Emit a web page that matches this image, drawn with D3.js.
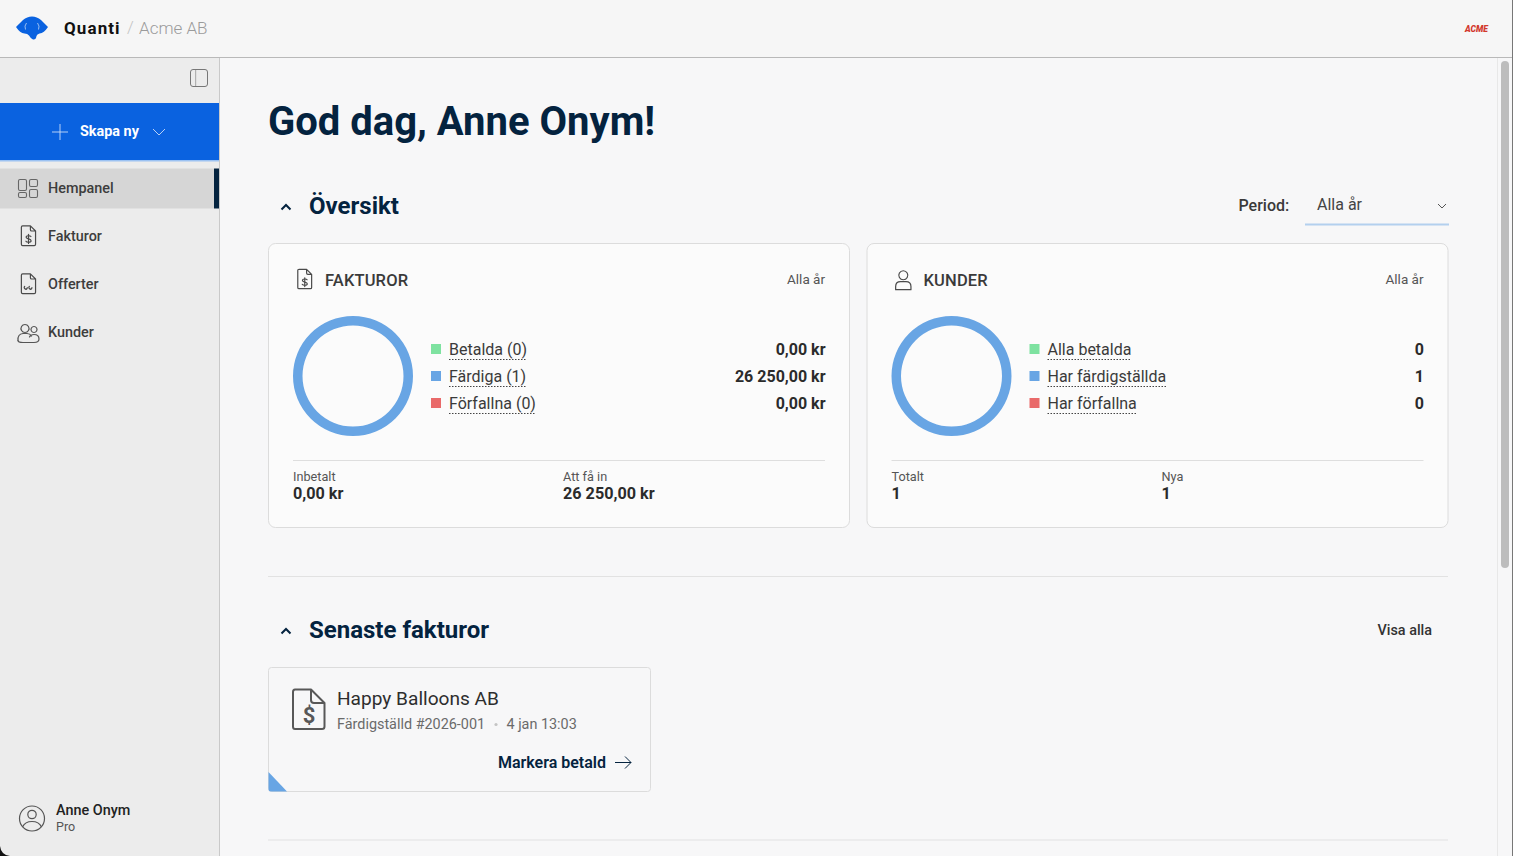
<!DOCTYPE html>
<html>
<head>
<meta charset="utf-8">
<script src="https://cdn.jsdelivr.net/npm/d3@7"></script>
<style>
  html, body { margin: 0; padding: 0; background: #f7f7f8; overflow: hidden; }
  svg { display: block; font-family: Roboto, sans-serif; }
  .ico { fill: none; stroke: #4a4a4a; stroke-width: 1.2; stroke-linejoin: round; stroke-linecap: round; }
</style>
</head>
<body>
<svg id="app" width="1513" height="856" viewBox="0 0 1513 856"></svg>
<script>
// data
const statusNames = ["paid", "done", "overdue"]
const statusColors = ["#7ee2a0", "#68a5e4", "#e96a6a"]

const invoiceLabels = ["Betalda (0)", "Färdiga (1)", "Förfallna (0)"]
const invoiceCounts = [0, 1, 0]
const invoiceAmounts = ["0,00 kr", "26 250,00 kr", "0,00 kr"]
const invoiceFooter = [["Inbetalt", "0,00 kr"], ["Att få in", "26 250,00 kr"]]

const customerLabels = ["Alla betalda", "Har färdigställda", "Har förfallna"]
const customerCounts = [0, 1, 0]
const customerFooter = [["Totalt", "1"], ["Nya", "1"]]

const navItems = ["Hempanel", "Fakturor", "Offerter", "Kunder"]

const svg = d3.select("#app")
const NAVY = "#04233f"
const BORDER = "#dcdcdc"

function rect(p, x, y, w, h, fill, extra = {}) {
  const r = p.append("rect").attr("x", x).attr("y", y).attr("width", w).attr("height", h).attr("fill", fill)
  Object.entries(extra).forEach(([k, v]) => r.attr(k, v))
  return r
}

function text(p, x, y, str, size, fill, weight = 400, anchor = "start") {
  return p.append("text")
    .attr("x", x).attr("y", y)
    .attr("font-size", size)
    .attr("font-weight", weight)
    .attr("fill", fill)
    .attr("text-anchor", anchor)
    .text(str)
}

// icons are drawn in a 24 box and scaled in
function icon(p, x, y, scale, paths, stroke = "#4a4a4a", width = 1.2) {
  const g = p.append("g")
    .attr("class", "ico")
    .attr("transform", `translate(${x},${y}) scale(${scale})`)
    .style("stroke", stroke)
    .style("stroke-width", width / scale)
  paths.forEach((d) => g.append("path").attr("d", d))
  return g
}

const docShape = "M6 1H15L21 7V22.5Q21 24 19.5 24H6Q4.5 24 4.5 22.5V2.5Q4.5 1 6 1ZM15 1V5.5Q15 7 16.5 7H21"
const dollar = ["M15.6 13.4C15 12.3 10 11.8 10 14.2C10 16.8 15.8 15.6 15.8 18.2C15.8 20.6 10.6 20.3 9.8 18.8", "M12.8 11V21.5"]
const quotes = ["M8.4 15.5a1.8 1.8 0 1 0 3 1.4c0 1-.6 1.8-1.4 2.2", "M13.8 15.5a1.8 1.8 0 1 0 3 1.4c0 1-.6 1.8-1.4 2.2"]
const person = ["M12 2.5a5 5 0 1 1-.01 0Z", "M3.5 23.5V20Q3.5 14.5 9 14.5H15Q20.5 14.5 20.5 20V23.5Z"]

// window chrome
rect(svg, 0, 0, 1513, 856, "#f7f7f8")
rect(svg, 0, 0, 1513, 57, "#f6f6f6")
rect(svg, 0, 57, 1513, 1, "#b9b9b9")
rect(svg, 0, 58, 219, 798, "#ececec")
rect(svg, 219, 58, 1, 798, "#c9c9c9")

// header
const logo = svg.append("g").attr("transform", "translate(16,16)")
logo.append("path").attr("fill", "#0a62e0")
  .attr("d", "M0 11Q4 7 7 4Q11 0.5 16 0.5Q21 0.5 25 4Q28 7 32 11Q28 17 23.5 17.5Q21 18 20.5 20Q20 24 17 23.5Q15 23 13 19.5Q11.5 17.5 8.5 17.5Q4 17 0 11Z")
logo.append("path").attr("fill", "none").attr("stroke", "#bcd4f5").attr("stroke-width", 0.8)
  .attr("d", "M10.5 7Q8 10 9.5 13.5M21.5 7Q24 10 22.5 13.5")
text(svg, 64, 34, "Quanti", 17, "#111", 700).attr("letter-spacing", 1.1)
text(svg, 127, 33, "/", 17, "#c4c4c4", 300)
text(svg, 139, 33.5, "Acme AB", 17, "#9b9b9b", 300)
text(svg, 1465, 31.5, "ACME", 8.6, "#d2392e", 900).attr("font-style", "italic")

// sidebar
rect(svg, 190.5, 69.5, 17, 17, "none", { stroke: "#777", rx: 2.5, "stroke-width": 1 })
rect(svg, 195.5, 69.5, 0.6, 17, "#777")
rect(svg, 0, 103, 219, 57, "#0a62e0")
rect(svg, 0, 160, 219, 1.5, "#9cc2f2")
svg.append("path").attr("fill", "none").attr("stroke", "#c9dcf8").attr("stroke-width", 0.9)
  .attr("d", "M60 124V140M52 132H68M153 129L159 135L165 129")
text(svg, 80, 136, "Skapa ny", 14.4, "#fff", 700)

const navY = d3.scalePoint().domain(navItems).range([188, 332])
rect(svg, 0, 168.5, 214, 40, "#d6d6d6")
rect(svg, 214, 168.5, 5, 40, NAVY)
navItems.forEach((name) => {
  text(svg, 48, navY(name) + 5, name, 14.4, "#3d3d3d", 500)
})
// nav icons
const gridIcon = svg.append("g").attr("fill", "none").attr("stroke", "#666").attr("stroke-width", 1.1)
gridIcon.append("rect").attr("x", 18.5).attr("y", 179.5).attr("width", 8).attr("height", 11).attr("rx", 1.5)
gridIcon.append("rect").attr("x", 29.5).attr("y", 179.5).attr("width", 8).attr("height", 7).attr("rx", 1.5)
gridIcon.append("rect").attr("x", 18.5).attr("y", 192.5).attr("width", 8).attr("height", 5).attr("rx", 1.5)
gridIcon.append("rect").attr("x", 29.5).attr("y", 189.5).attr("width", 8).attr("height", 8).attr("rx", 1.5)
icon(svg, 17.5, 225, 0.86, [docShape, ...dollar])
icon(svg, 17.5, 273, 0.86, [docShape, ...quotes])
icon(svg, 17, 323, 1, [
  "M8 1.5a4 4 0 1 1-.01 0Z",
  "M1 17.5Q0.5 11 6 10.5H10Q13 10.5 14.5 13",
  "M17 3.5a3 3 0 1 1-.01 0Z",
  "M1 17.5Q1 19.5 6 19.5H17Q22 19.5 22 16Q22 11.5 17 11.5Q13.5 11.5 12.5 14"
], "#555")

// user box
svg.append("circle").attr("cx", 32).attr("cy", 818.5).attr("r", 12.5)
  .attr("fill", "none").attr("stroke", "#555").attr("stroke-width", 1.2)
svg.append("circle").attr("cx", 32).attr("cy", 814.5).attr("r", 4.2)
  .attr("fill", "none").attr("stroke", "#555").attr("stroke-width", 1.2)
svg.append("path").attr("fill", "none").attr("stroke", "#555").attr("stroke-width", 1.2)
  .attr("d", "M22.5 827Q25 821.5 32 821.5Q39 821.5 41.5 827")
text(svg, 56, 815, "Anne Onym", 14.4, "#222", 500)
text(svg, 56, 831, "Pro", 12.5, "#555")

// main heading
text(svg, 268, 135, "God dag, Anne Onym!", 40, NAVY, 700)

function sectionTitle(y, str) {
  svg.append("path").attr("fill", "none").attr("stroke", NAVY).attr("stroke-width", 2)
    .attr("d", `M281.5 ${y + 3.5}L286 ${y - 1}L290.5 ${y + 3.5}`)
  text(svg, 309, y + 8, str, 24, NAVY, 700)
}
sectionTitle(206, "Översikt")
sectionTitle(630, "Senaste fakturor")
text(svg, 1432, 635, "Visa alla", 14.4, "#333", 500, "end")

text(svg, 1238.5, 211, "Period:", 16, "#3a3a3a", 500)
text(svg, 1317, 210, "Alla år", 16, "#444")
svg.append("path").attr("fill", "none").attr("stroke", "#555")
  .attr("d", "M1438 204L1442 208L1446 204")
rect(svg, 1305, 223.5, 144, 2, "#b3d0ee")

rect(svg, 268, 576, 1180, 1, "#e2e2e2")
rect(svg, 268, 839.5, 1180, 1, "#e2e2e2")

const pie = d3.pie().sort(null)
const arc = d3.arc().innerRadius(50.5).outerRadius(60)

function statCard(opts) {
  const card = svg.append("g").attr("transform", `translate(${opts.x},243.5)`)
  rect(card, 0.5, 0, 581, 284, "#fbfbfb", { stroke: BORDER, rx: 7 })

  text(card, 57, 42, opts.title, 16.5, "#3a3a3a", 500).attr("letter-spacing", 0.15)
  text(card, 557, 40.5, "Alla år", 13.5, "#555", 400, "end")

  // donut
  const donut = card.append("g").attr("transform", "translate(85,132.5)")
  donut.selectAll("path")
    .data(pie(opts.counts))
    .join("path")
    .attr("fill", (d, i) => statusColors[i])
    .attr("d", arc)

  // legend
  const rowY = d3.scalePoint().domain(statusNames).range([105.5, 159.5])
  statusNames.forEach((status, i) => {
    const y = rowY(status)
    rect(card, 163, y - 5, 10, 10, statusColors[i])
    const label = text(card, 181, y + 5.5, opts.labels[i], 16, "#3a3a3a")
    const w = label.node().getComputedTextLength()
    card.append("line")
      .attr("x1", 181).attr("x2", 181 + w)
      .attr("y1", y + 10.5).attr("y2", y + 10.5)
      .attr("stroke", "#444").attr("stroke-width", 1.2).attr("stroke-dasharray", "1.5 1.5")
    text(card, 557.5, y + 5.5, opts.values[i], 16, "#2b2b2b", 700, "end")
  })

  rect(card, 25, 216.5, 532, 1, "#dedede")
  opts.footer.forEach(([label, value], i) => {
    const x = i === 0 ? 25 : 295
    text(card, x, 237.5, label, 12.7, "#555")
    text(card, x, 255, value, 16.2, "#2b2b2b", 700)
  })
  return card
}

const invoiceCard = statCard({
  x: 268, title: "FAKTUROR", counts: invoiceCounts,
  labels: invoiceLabels, values: invoiceAmounts, footer: invoiceFooter
})
icon(invoiceCard, 26, 25, 0.84, [docShape, ...dollar])

const customerCard = statCard({
  x: 866.5, title: "KUNDER", counts: customerCounts,
  labels: customerLabels, values: customerCounts.map(String), footer: customerFooter
})
icon(customerCard, 26, 25, 0.9, person)

// latest invoice
const inv = svg.append("g")
rect(inv, 268.5, 667.5, 382, 124, "#f7f7f8", { stroke: BORDER, rx: 3 })
inv.append("path").attr("fill", statusColors[1]).attr("d", "M268.5 772L287 791.5H271Q268.5 791.5 268.5 789Z")
inv.append("path").attr("fill", "none").attr("stroke", "#585858").attr("stroke-width", 2).attr("stroke-linejoin", "round")
  .attr("d", "M295 689.5H311L324.5 703V726.5Q324.5 729 322 729H295Q293 729 293 726.5V692Q293 689.5 295 689.5ZM311 689.5V700Q311 703 314 703H324.5")
text(inv, 309, 723, "$", 22, "#585858", 700, "middle")
text(inv, 337, 705, "Happy Balloons AB", 19.1, "#2e2e2e")
text(inv, 337, 728.5, "Färdigställd #2026-001", 14.4, "#6a6a6a")
inv.append("circle").attr("cx", 496).attr("cy", 724.5).attr("r", 1.6).attr("fill", "#c4c4c4")
text(inv, 506.5, 728.5, "4 jan 13:03", 14.4, "#6a6a6a")
text(inv, 606, 768, "Markera betald", 16, NAVY, 600, "end")
inv.append("path").attr("fill", "none").attr("stroke", NAVY).attr("stroke-width", 1)
  .attr("d", "M615 762.5H631M625 756.5L631 762.5L625 768.5")

// scrollbar and window edge
rect(svg, 1497, 58, 15, 798, "#f7f7f8")
rect(svg, 1497, 58, 1, 798, "#e8e8e8")
rect(svg, 1501, 61, 8, 507, "#bdbdbd", { rx: 4 })
rect(svg, 1512, 0, 1, 856, "#777")
svg.append("path").attr("fill", "#111").attr("d", "M0 846Q1 855 10 856H0Z")
</script>
</body>
</html>
